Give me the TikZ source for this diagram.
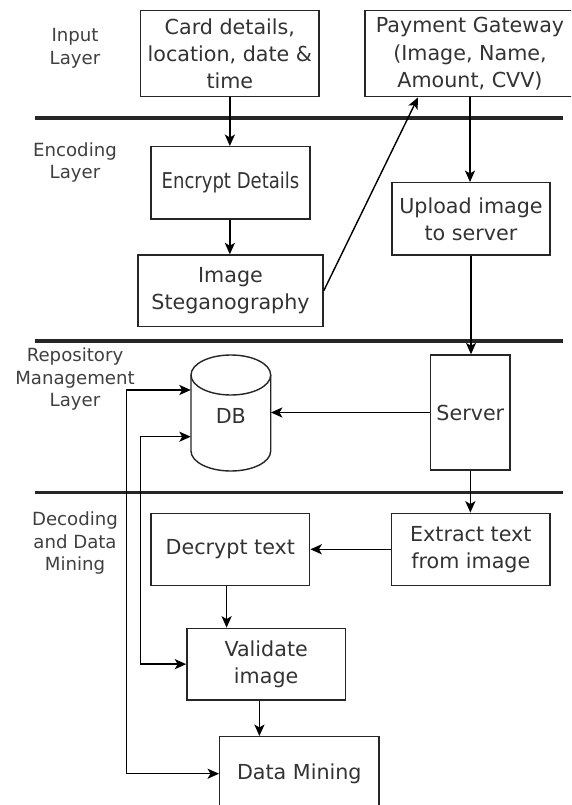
\documentclass[tikz,border=0pt]{standalone}
\usepackage{fontspec}
\setmainfont{DejaVu Sans}
\newfontfamily\condfont[FakeStretch=0.83]{DejaVu Sans}
\usetikzlibrary{arrows.meta}
\newlength\upx
\setlength\upx{0.75pt}
\begin{document}
\begin{tikzpicture}[x=0.75pt, y=-0.75pt,
  box/.style={draw=black!85, line width=1.05pt, fill=white, inner sep=0pt, align=center, text=black!80, font=\fontsize{15.5pt}{20.3pt}\selectfont},
  lay/.style={align=center, text=black!75, font=\fontsize{13.6pt}{17pt}\selectfont},
  tipA/.tip={Stealth[length=8.6pt,width=7.6pt,inset=2.2pt]},
  arr/.style={draw=black, line width=1.05pt, -tipA},
  arrb/.style={draw=black, line width=1.05pt, tipA-tipA},
  sep/.style={draw=black!85, line width=2.6pt}]
\useasboundingbox (0,0) rectangle (571,805);
\fill[white] (0,0) rectangle (571,805);
\clip (0,0) rectangle (571,805);

% layer labels
\node[lay] (l1) at (75,48) {Input\\Layer};
\node[lay] (l2) at (75,162.5) {Encoding\\Layer};
\node[lay] (l3) at (75,379) {Repository\\Management\\Layer};
\node[lay] (l4) at (75,543.3) {Decoding\\and Data\\Mining};

% separators
\draw[sep] (34.6,118) -- (563,118);
\draw[sep] (34.6,341) -- (563,341);
\draw[sep] (34.6,492.3) -- (563,492.3);

% boxes
\node[box, minimum width=178.3\upx, minimum height=86\upx] (card) at (229.85,53.7) {Card details,\\location, date \&\\time};
\node[box, minimum width=210\upx, minimum height=86\upx] (pay) at (470,53.7) {Payment Gateway\\(Image, Name,\\Amount, CVV)};
\node[box, minimum width=159\upx, minimum height=72.3\upx, font={\condfont\fontsize{16.3pt}{20.3pt}\selectfont}] (enc) at (230.5,182.85) {Encrypt Details};
\node[box, minimum width=185\upx, minimum height=71.7\upx] (steg) at (230.5,290.85) {Image\\Steganography};
\node[box, minimum width=158\upx, minimum height=72.3\upx] (upl) at (471,218.85) {Upload image\\to server};
\node[box, minimum width=79.3\upx, minimum height=115\upx] (server) at (470.35,412.5) {Server};
\node[box, minimum width=158.4\upx, minimum height=72\upx] (extract) at (470.8,549.3) {Extract text\\from image};
\node[box, minimum width=158.7\upx, minimum height=72\upx] (decrypt) at (230.35,549.3) {Decrypt text};
\node[box, minimum width=158.5\upx, minimum height=71.7\upx] (validate) at (266.15,664.15) {Validate\\image};
\node[box, minimum width=159.2\upx, minimum height=74\upx] (dm) at (299.3,773.7) {Data Mining};

% database cylinder
\node[inner sep=0pt, minimum width=79.7\upx, minimum height=116\upx] (db) at (230.85,413) {};
\draw[draw=black!85, line width=1.05pt, fill=white] (191,375) -- (191,451) arc[start angle=180, end angle=360, x radius=29.89pt, y radius=15pt] -- (270.7,375);
\draw[draw=black!85, line width=1.05pt, fill=white] (230.85,375) ellipse [x radius=29.89pt, y radius=15pt];
\node[text=black!80, font=\fontsize{15.5pt}{20.3pt}\selectfont] (dbt) at (230.85,416) {DB};

% helper coordinates
\coordinate (xa) at (418,0);
\coordinate (xb) at (226.6,0);
\coordinate (xc) at (259.4,0);
\coordinate (fa) at (126.7,390);
\coordinate (fb) at (140.6,436.7);

% connectors
\draw[arr] (card.south) -- (card.south |- enc.north);
\draw[arr] (enc.south -| card.south) -- (card.south |- steg.north);
\draw[arr] (steg.east) -- (pay.south -| xa);
\draw[arr] (pay.south) -- (pay.south |- upl.north);
\draw[arr] (upl.south) -- (upl.south |- server.north);
\draw[arr] (server.south) -- (server.south |- extract.north);
\draw[arr] (server.west) -- (server.west -| db.east);
\draw[arr] (extract.west) -- (extract.west -| decrypt.east);
\draw[arr] (decrypt.south -| xb) -- (validate.north -| xb);
\draw[arr] (validate.south -| xc) -- (dm.north -| xc);
\draw[arrb] (db.west |- fa) -- (fa) |- (dm.west);
\draw[arrb] (db.west |- fb) -- (fb) |- (validate.west);
\end{tikzpicture}
\end{document}
